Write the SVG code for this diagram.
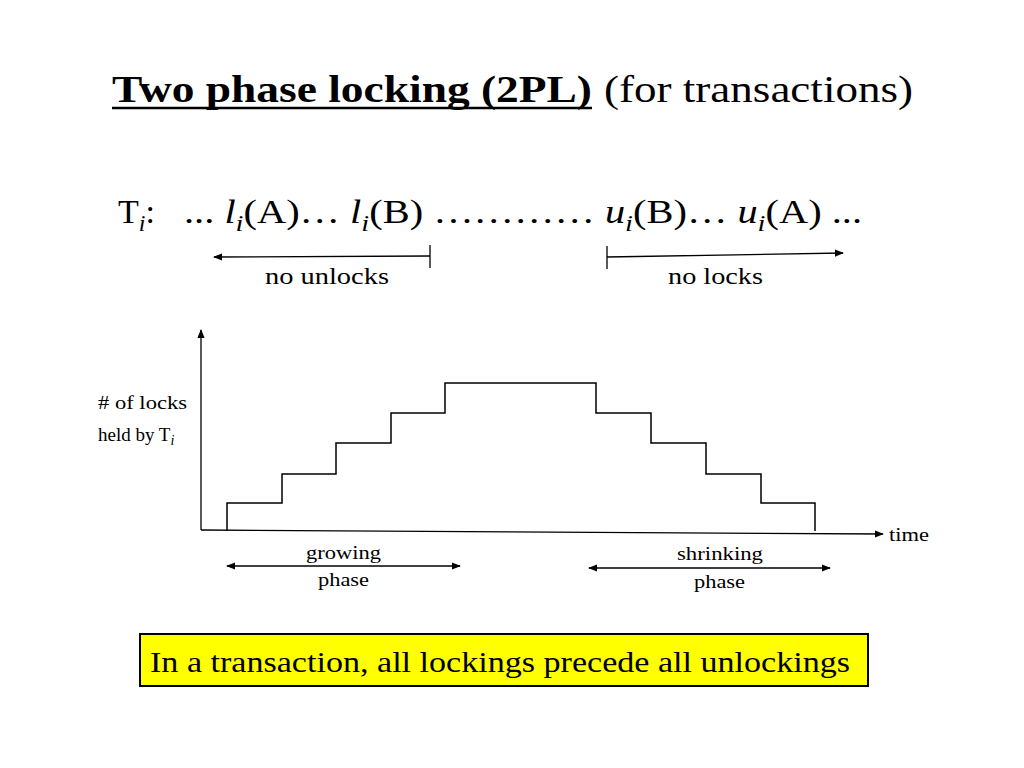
<svg xmlns="http://www.w3.org/2000/svg" width="1024" height="768" viewBox="0 0 1024 768">
<style>
text{font-family:"Liberation Serif","Times New Roman","DejaVu Serif",serif;fill:#000}
.l{stroke:#000;stroke-width:1.5;fill:none}
.a{stroke:#000;stroke-width:1.3;fill:none}
</style>
<defs>
<marker id="ah" viewBox="0 0 10 10" refX="9" refY="5" markerWidth="7" markerHeight="7" orient="auto-start-reverse"><path d="M0,1 L10,5 L0,9 z" fill="#000"/></marker>
</defs>
<rect width="1024" height="768" fill="#fff"/>
<g id="title">
<text x="112" y="102" font-size="38" font-weight="bold" textLength="480" lengthAdjust="spacingAndGlyphs">Two phase locking (2PL)</text>
<line x1="112" y1="108" x2="592" y2="108" stroke="#000" stroke-width="2.5"/>
<text x="604" y="102" font-size="38" textLength="309" lengthAdjust="spacingAndGlyphs">(for transactions)</text>
</g>
<g id="sequence">
<text x="118" y="223" font-size="34">T<tspan font-size="24" font-style="italic" dy="8">i</tspan><tspan dy="-8">:</tspan></text>
<text x="184" y="223" font-size="34" textLength="678" lengthAdjust="spacingAndGlyphs">... <tspan font-style="italic">l</tspan><tspan font-size="24" font-style="italic" dy="8">i</tspan><tspan dy="-8">(A)… </tspan><tspan font-style="italic">l</tspan><tspan font-size="24" font-style="italic" dy="8">i</tspan><tspan dy="-8">(B) ………… </tspan><tspan font-style="italic">u</tspan><tspan font-size="24" font-style="italic" dy="8">i</tspan><tspan dy="-8">(B)… </tspan><tspan font-style="italic">u</tspan><tspan font-size="24" font-style="italic" dy="8">i</tspan><tspan dy="-8">(A) ...</tspan></text>
</g>
<g id="connectors">
<line class="a" x1="430" y1="256" x2="214" y2="257" marker-end="url(#ah)"/>
<line class="a" x1="430" y1="245" x2="430" y2="268"/>
<line class="a" x1="607" y1="257" x2="843" y2="253" marker-end="url(#ah)"/>
<line class="a" x1="607" y1="246" x2="607" y2="269"/>
<line class="a" x1="201" y1="530" x2="201" y2="330" marker-end="url(#ah)"/>
<line class="a" x1="201" y1="530" x2="883" y2="534" marker-end="url(#ah)"/>
<line class="a" x1="227" y1="566" x2="460" y2="566" marker-start="url(#ah)" marker-end="url(#ah)"/>
<line class="a" x1="589" y1="568" x2="830" y2="568" marker-start="url(#ah)" marker-end="url(#ah)"/>
</g>
<g id="labels">
<text x="265" y="284" font-size="24" textLength="124" lengthAdjust="spacingAndGlyphs">no unlocks</text>
<text x="668" y="284" font-size="24" textLength="95" lengthAdjust="spacingAndGlyphs">no locks</text>
<text x="98" y="409" font-size="19" textLength="89" lengthAdjust="spacingAndGlyphs"># of locks</text>
<text x="98" y="441" font-size="19">held by T<tspan font-style="italic" font-size="14" dy="4">i</tspan></text>
<text x="889" y="541" font-size="19" textLength="40" lengthAdjust="spacingAndGlyphs">time</text>
<text x="306" y="559" font-size="19" textLength="75" lengthAdjust="spacingAndGlyphs">growing</text>
<text x="318" y="586" font-size="19" textLength="51" lengthAdjust="spacingAndGlyphs">phase</text>
<text x="677" y="560" font-size="19" textLength="86" lengthAdjust="spacingAndGlyphs">shrinking</text>
<text x="694" y="588" font-size="19" textLength="51" lengthAdjust="spacingAndGlyphs">phase</text>
</g>
<g id="staircase">
<path class="l" d="M227,531 V503 H282 V474 H336 V443 H391 V413 H445 V383 H596 V413 H651 V443 H706 V474 H761 V503 H815 V531"/>
</g>
<g id="note">
<rect x="140" y="634" width="728" height="52" fill="#ffff00" stroke="#000" stroke-width="2"/>
<text x="150" y="672" font-size="29" textLength="700" lengthAdjust="spacingAndGlyphs">In a transaction, all lockings precede all unlockings</text>
</g>
</svg>
